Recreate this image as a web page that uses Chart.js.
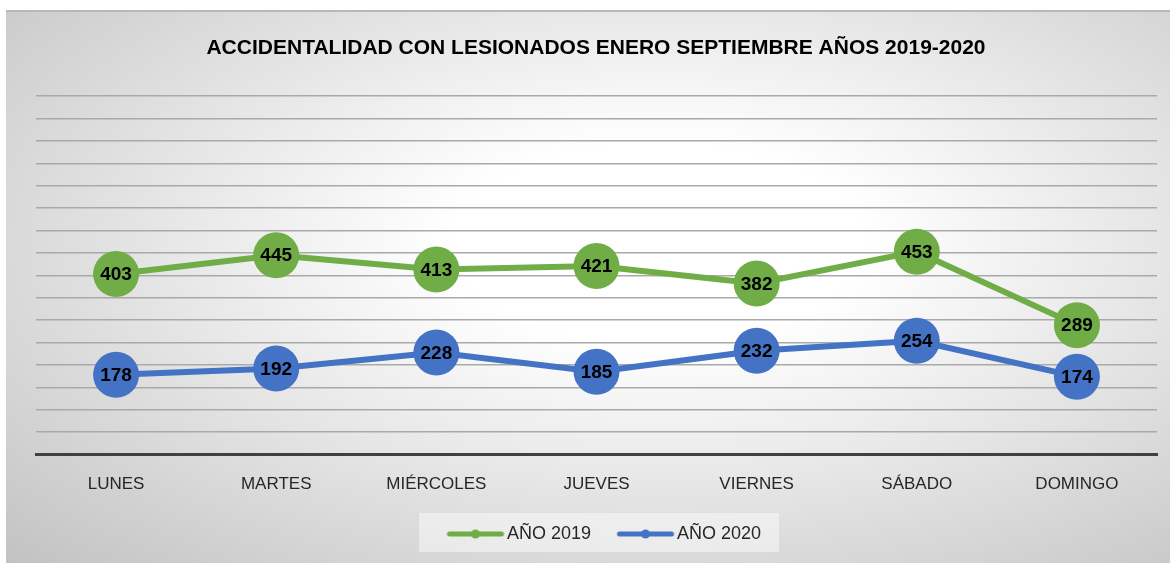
<!DOCTYPE html>
<html>
<head>
<meta charset="utf-8">
<script src="https://cdn.jsdelivr.net/npm/chart.js@4.4.0/dist/chart.umd.min.js"></script>
<style>
  html, body { margin: 0; background: #fff; width: 1170px; height: 563px; overflow: hidden; }
  #frame {
    position: absolute; left: 6px; top: 10px; width: 1164px; height: 553px;
    border-top: 2px solid #b8b8b8; box-sizing: border-box;
    background: radial-gradient(ellipse farthest-corner at 56% 42%, #ffffff 0%, #ffffff 22%, #c2c2c2 100%);
  }
  #accChart { position: absolute; left: 6px; top: 10px; }
</style>
</head>
<body>
<div id="frame"></div>
<canvas id="accChart" width="1180" height="553"></canvas>
<script>
// values
const days = ['LUNES', 'MARTES', 'MIÉRCOLES', 'JUEVES', 'VIERNES', 'SÁBADO', 'DOMINGO'];
const year2019 = [403, 445, 413, 421, 382, 453, 289];
const year2020 = [178, 192, 228, 185, 232, 254, 174];
const seriesNames = ['AÑO 2019', 'AÑO 2020'];

const GREEN = '#70ad47';
const BLUE = '#4472c4';
const FONT = 'Liberation Sans';

// line-with-dot icon for the legend (box is 67 wide, icon sits at its right end)
function legendIcon(color) {
    const c = document.createElement('canvas');
    c.width = 86; c.height = 12;
    const g = c.getContext('2d');
    g.strokeStyle = color;
    g.lineWidth = 5;
    g.lineCap = 'round';
    g.beginPath(); g.moveTo(28, 6); g.lineTo(80, 6); g.stroke();
    g.fillStyle = color;
    g.beginPath(); g.arc(54, 6, 4.5, 0, Math.PI * 2); g.fill();
    return c;
}
const icons = [legendIcon(GREEN), legendIcon(BLUE)];

// draws the value inside each marker
const valueLabels = {
    id: 'valueLabels',
    afterDatasetsDraw(chart) {
        const ctx = chart.ctx;
        ctx.save();
        ctx.font = 'bold 19px "' + FONT + '"';
        ctx.fillStyle = '#000';
        ctx.textAlign = 'center';
        ctx.textBaseline = 'middle';
        chart.data.datasets.forEach((ds, i) => {
            chart.getDatasetMeta(i).data.forEach((pt, j) => {
                ctx.fillText(ds.data[j], pt.x, pt.y + 1);
            });
        });
        ctx.restore();
    }
};

// faint box behind the legend
const legendBox = {
    id: 'legendBox',
    beforeDraw(chart) {
        const lg = chart.legend;
        if (!lg || !lg.legendHitBoxes.length) return;
        const first = lg.legendHitBoxes[0];
        const last = lg.legendHitBoxes[lg.legendHitBoxes.length - 1];
        const ctx = chart.ctx;
        ctx.save();
        ctx.fillStyle = 'rgba(255,255,255,0.45)';
        ctx.fillRect(first.left - 12, first.top - 12, last.left + last.width - first.left + 30, first.height + 21);
        ctx.restore();
    }
};

const ctx = document.getElementById('accChart').getContext('2d');
new Chart(ctx, {
    type: 'line',
    data: {
        labels: days,
        datasets: [{
            label: seriesNames[0],
            data: year2019,
            borderColor: GREEN,
            backgroundColor: GREEN,
            borderWidth: 6,
            pointRadius: 23,
            pointBorderWidth: 0,
            pointBackgroundColor: GREEN,
            tension: 0
        }, {
            label: seriesNames[1],
            data: year2020,
            borderColor: BLUE,
            backgroundColor: BLUE,
            borderWidth: 6,
            pointRadius: 23,
            pointBorderWidth: 0,
            pointBackgroundColor: BLUE,
            tension: 0
        }]
    },
    options: {
        responsive: false,
        animation: false,
        devicePixelRatio: 1,
        layout: { padding: { left: 0, right: 0, top: 0, bottom: 10 } },
        scales: {
            x: {
                offset: true,
                grid: { display: false, drawTicks: false },
                border: { display: true, color: '#404040', width: 3 },
                ticks: { color: '#262626', padding: 20, font: { family: FONT, size: 17 } }
            },
            y: {
                min: 0,
                max: 800,
                ticks: { display: false, stepSize: 50 },
                border: { display: false },
                grid: { color: '#a9a9a9', lineWidth: 1.5, drawTicks: false },
                afterFit(scale) { scale.width = 30; }
            },
            yRight: {
                position: 'right',
                min: 0,
                max: 1,
                ticks: { display: false },
                border: { display: false },
                grid: { display: false, drawTicks: false },
                afterFit(scale) { scale.width = 29; }
            }
        },
        plugins: {
            title: {
                display: true,
                text: 'ACCIDENTALIDAD CON LESIONADOS ENERO SEPTIEMBRE AÑOS 2019-2020',
                color: '#000',
                font: { family: FONT, size: 21, weight: 'bold' },
                padding: { top: 26, bottom: 35 }
            },
            legend: {
                position: 'bottom',
                labels: {
                    color: '#262626',
                    font: { family: FONT, size: 18 },
                    usePointStyle: true,
                    pointStyleWidth: 67,
                    padding: 10,
                    generateLabels(chart) {
                        const items = Chart.defaults.plugins.legend.labels.generateLabels(chart);
                        items.forEach((it, i) => { it.pointStyle = icons[i]; });
                        return items;
                    }
                }
            },
            tooltip: { enabled: false }
        }
    },
    plugins: [legendBox, valueLabels]
});
</script>
</body>
</html>
